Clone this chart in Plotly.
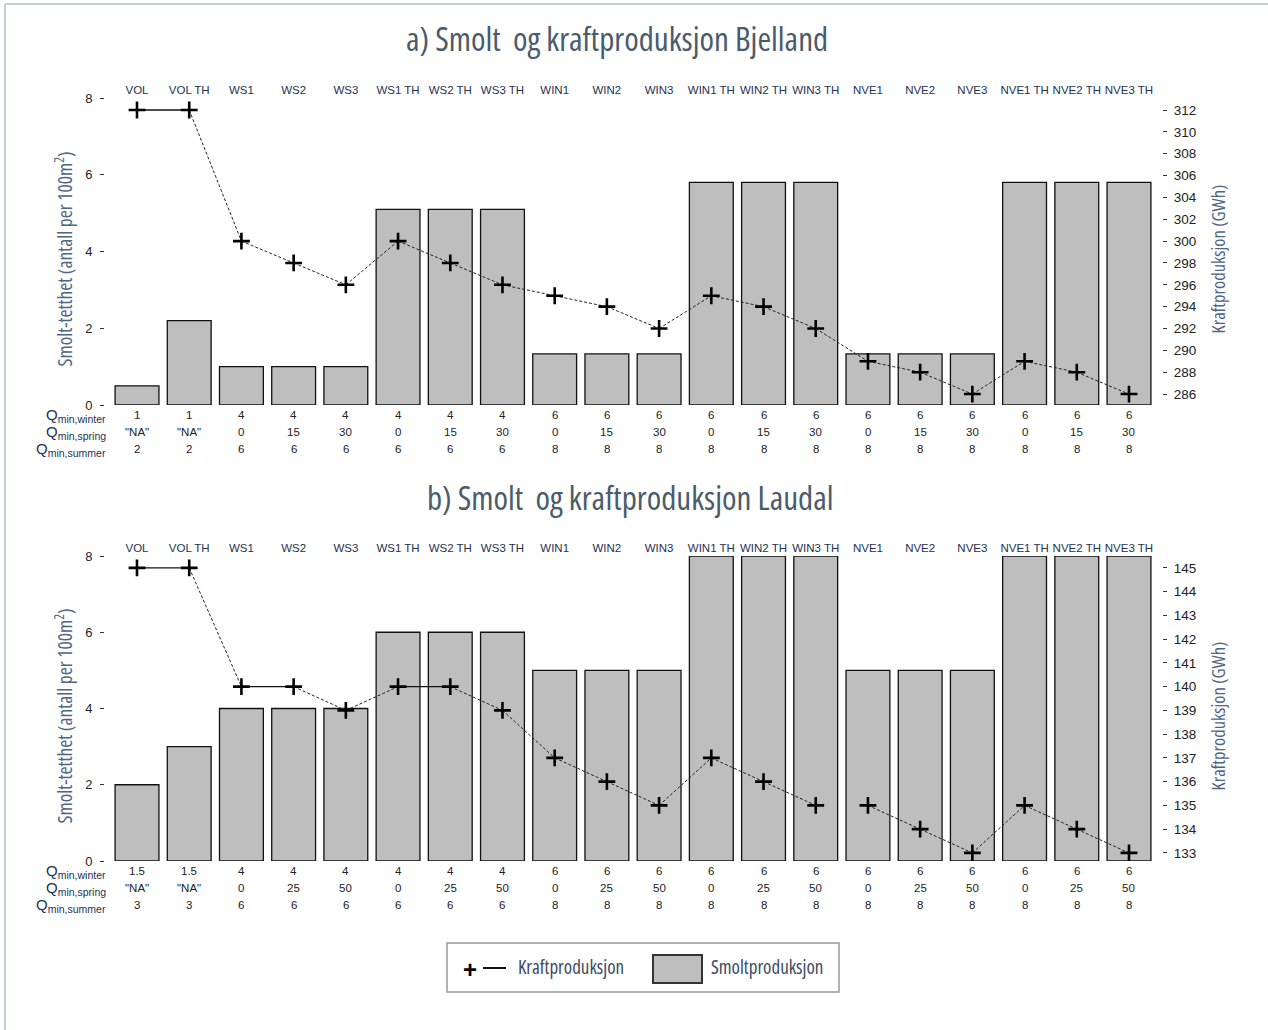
import plotly.graph_objects as go

# ---- data -----------------------------------------------------------------
scenarios = ["VOL", "VOL TH", "WS1", "WS2", "WS3", "WS1 TH", "WS2 TH", "WS3 TH",
             "WIN1", "WIN2", "WIN3", "WIN1 TH", "WIN2 TH", "WIN3 TH",
             "NVE1", "NVE2", "NVE3", "NVE1 TH", "NVE2 TH", "NVE3 TH"]

# Bjelland
smolt_bjelland = [0.5, 2.2, 1.0, 1.0, 1.0, 5.1, 5.1, 5.1, 1.33, 1.33, 1.33,
                  5.8, 5.8, 5.8, 1.33, 1.33, 1.33, 5.8, 5.8, 5.8]
kraft_bjelland = [312, 312, 300, 298, 296, 300, 298, 296, 295, 294, 292,
                  295, 294, 292, 289, 288, 286, 289, 288, 286]
qwinter_bjelland = ["1", "1", "4", "4", "4", "4", "4", "4", "6", "6", "6",
                    "6", "6", "6", "6", "6", "6", "6", "6", "6"]
qspring_bjelland = ['"NA"', '"NA"', "0", "15", "30", "0", "15", "30", "0", "15", "30",
                    "0", "15", "30", "0", "15", "30", "0", "15", "30"]
qsummer_bjelland = ["2", "2", "6", "6", "6", "6", "6", "6", "8", "8", "8",
                    "8", "8", "8", "8", "8", "8", "8", "8", "8"]

# Laudal
smolt_laudal = [2.0, 3.0, 4.0, 4.0, 4.0, 6.0, 6.0, 6.0, 5.0, 5.0, 5.0,
                8.0, 8.0, 8.0, 5.0, 5.0, 5.0, 8.0, 8.0, 8.0]
kraft_laudal = [145, 145, 140, 140, 139, 140, 140, 139, 137, 136, 135,
                137, 136, 135, 135, 134, 133, 135, 134, 133]
qwinter_laudal = ["1.5", "1.5", "4", "4", "4", "4", "4", "4", "6", "6", "6",
                  "6", "6", "6", "6", "6", "6", "6", "6", "6"]
qspring_laudal = ['"NA"', '"NA"', "0", "25", "50", "0", "25", "50", "0", "25", "50",
                  "0", "25", "50", "0", "25", "50", "0", "25", "50"]
qsummer_laudal = ["3", "3", "6", "6", "6", "6", "6", "6", "8", "8", "8",
                  "8", "8", "8", "8", "8", "8", "8", "8", "8"]

left_ticks = [0, 2, 4, 6, 8]
right_ticks_bjelland = list(range(286, 313, 2))
right_ticks_laudal = list(range(133, 146))

# ---- page geometry (pixels) -------------------------------------------------
W, H = 1268, 1030
SANS = "Liberation Sans, Arial, sans-serif"
COND = "Open Sans"
TITLE_COL = "#4a5b6c"
AXT_COL = "#4f6584"
LBL_COL = "#26314f"

def narrow(text):
    return '<span style="font-stretch:condensed">' + text + "</span>"

def px(x):
    return x / W

def py(y):
    return 1 - y / H

def group(name):
    # scenario family: VOL, WS, WIN, NVE
    return "".join(c for c in name.split()[0] if c.isalpha())

x_dom = [px(110.9), px(1155.1)]
idx = list(range(len(scenarios)))

panels = [
    dict(title="a) Smolt  og kraftproduksjon Bjelland", title_x=617, title_y=38,
         smolt=smolt_bjelland, kraft=kraft_bjelland,
         rows=[qwinter_bjelland, qspring_bjelland, qsummer_bjelland],
         top=98, bottom=405, y2range=[285.0, 313.1], y2ticks=right_ticks_bjelland,
         xa="x", ya="y", ya2="y2"),
    dict(title="b) Smolt  og kraftproduksjon Laudal", title_x=630, title_y=497,
         smolt=smolt_laudal, kraft=kraft_laudal,
         rows=[qwinter_laudal, qspring_laudal, qsummer_laudal],
         top=556, bottom=861, y2range=[132.66, 145.5], y2ticks=right_ticks_laudal,
         xa="x2", ya="y3", ya2="y4"),
]

fig = go.Figure()
annotations = []
shapes = []

for k, p in enumerate(panels):
    # bars: smolt density
    fig.add_trace(go.Bar(
        x=idx, y=p["smolt"], width=0.84, xaxis=p["xa"], yaxis=p["ya"],
        marker=dict(color="#bebebe", line=dict(color="#111111", width=1.3)),
        showlegend=False, hoverinfo="skip"))

    # line: power production; flat steps within a scenario family are solid,
    # sloping steps dashed
    kr = p["kraft"]
    dx, dy, sx, sy = [], [], [], []
    for i in range(len(kr) - 1):
        if kr[i] == kr[i + 1]:
            if group(scenarios[i]) == group(scenarios[i + 1]):
                sx += [i, i + 1, None]
                sy += [kr[i], kr[i + 1], None]
        else:
            dx += [i, i + 1, None]
            dy += [kr[i], kr[i + 1], None]
    fig.add_trace(go.Scatter(
        x=dx, y=dy, mode="lines", xaxis=p["xa"], yaxis=p["ya2"],
        line=dict(color="#222222", width=1, dash="3px,2px"),
        showlegend=False, hoverinfo="skip"))
    fig.add_trace(go.Scatter(
        x=sx, y=sy, mode="lines", xaxis=p["xa"], yaxis=p["ya2"],
        line=dict(color="#111111", width=1.3),
        showlegend=False, hoverinfo="skip"))
    fig.add_trace(go.Scatter(
        x=idx, y=kr, mode="markers", xaxis=p["xa"], yaxis=p["ya2"],
        marker=dict(symbol="cross-thin", size=12, color="#000000",
                    line=dict(color="#000000", width=2.6)),
        showlegend=False, hoverinfo="skip"))

    ydom = [py(p["bottom"]), py(p["top"])]
    xkey = "xaxis" if k == 0 else "xaxis2"
    ykey = "yaxis" if k == 0 else "yaxis3"
    y2key = "yaxis2" if k == 0 else "yaxis4"
    fig.update_layout({
        xkey: dict(domain=x_dom, range=[-0.5, 19.5], side="top", anchor=p["ya"],
                   tickmode="array", tickvals=idx, ticktext=scenarios,
                   showgrid=False, zeroline=False, showline=False, ticks="",
                   ticklabelstandoff=1,
                   tickfont=dict(family=SANS, size=11.5, color=LBL_COL),
                   automargin=False, fixedrange=True),
        ykey: dict(domain=ydom, range=[0, 8], anchor="free", position=px(104),
                   tickmode="array", tickvals=left_ticks,
                   ticks="outside", ticklen=4, tickwidth=1, tickcolor="#333333",
                   ticklabelstandoff=5,
                   showgrid=False, zeroline=False, showline=False,
                   tickfont=dict(family=SANS, size=13, color="#222222"),
                   automargin=False),
        y2key: dict(overlaying=p["ya"], side="right", anchor="free", position=px(1162),
                    range=p["y2range"], tickmode="array", tickvals=p["y2ticks"],
                    ticks="outside", ticklen=4, tickwidth=1, tickcolor="#333333",
                    ticklabelstandoff=4,
                    showgrid=False, zeroline=False, showline=False,
                    tickfont=dict(family=SANS, size=13.5, color="#222222"),
                    automargin=False),
    })

    # panel title
    annotations.append(dict(text=narrow(p["title"]), x=px(p["title_x"]), y=py(p["title_y"]),
                            xref="paper", yref="paper", showarrow=False,
                            xanchor="center", yanchor="middle",
                            font=dict(family=COND, size=33, color=TITLE_COL)))
    # axis titles
    mid = (p["top"] + p["bottom"]) / 2
    annotations.append(dict(text=narrow("Smolt-tetthet (antall per 100m<sup>2</sup>)"),
                            x=px(63), y=py(mid + 8), xref="paper", yref="paper",
                            showarrow=False, textangle=-90,
                            xanchor="center", yanchor="middle",
                            font=dict(family=COND, size=19.5, color=AXT_COL)))
    annotations.append(dict(text=narrow("Kraftproduksjon (GWh)"),
                            x=px(1217), y=py(mid + 8), xref="paper", yref="paper",
                            showarrow=False, textangle=-90,
                            xanchor="center", yanchor="middle",
                            font=dict(family=COND, size=18.5, color=AXT_COL)))

    # flow requirement table under the bars
    row_names = ["winter", "spring", "summer"]
    for r, (vals, name) in enumerate(zip(p["rows"], row_names)):
        yrow = p["bottom"] + 10 + 17 * r
        annotations.append(dict(
            text="Q<sub>min," + name + "</sub>", x=px(108), y=py(yrow),
            xref="paper", yref="paper", showarrow=False,
            xanchor="right", yanchor="middle",
            font=dict(family=SANS, size=15, color=LBL_COL)))
        for i, v in enumerate(vals):
            annotations.append(dict(
                text=v, x=i, y=py(yrow), xref=p["xa"], yref="paper",
                showarrow=False, xanchor="center", yanchor="middle",
                font=dict(family=SANS, size=11.5, color="#222222")))

# ---- legend -----------------------------------------------------------------
shapes.append(dict(type="rect", xref="paper", yref="paper",
                   x0=px(447), x1=px(839), y0=py(992), y1=py(943),
                   line=dict(color="#9a9a9a", width=1.5), fillcolor="rgba(0,0,0,0)"))
shapes.append(dict(type="line", xref="paper", yref="paper",
                   x0=px(483), x1=px(506), y0=py(968), y1=py(968),
                   line=dict(color="#111111", width=2)))
annotations.append(dict(text="<b>+</b>", x=px(470), y=py(969), xref="paper", yref="paper",
                        showarrow=False, xanchor="center", yanchor="middle",
                        font=dict(family=SANS, size=24, color="#000000")))
annotations.append(dict(text=narrow("Kraftproduksjon"), x=px(516), y=py(967), xref="paper",
                        yref="paper", showarrow=False, xanchor="left", yanchor="middle",
                        font=dict(family=COND, size=19, color="#3b4a66")))
shapes.append(dict(type="rect", xref="paper", yref="paper",
                   x0=px(653), x1=px(702), y0=py(983), y1=py(955),
                   line=dict(color="#333333", width=2), fillcolor="#bebebe"))
annotations.append(dict(text=narrow("Smoltproduksjon"), x=px(709), y=py(967), xref="paper",
                        yref="paper", showarrow=False, xanchor="left", yanchor="middle",
                        font=dict(family=COND, size=19, color="#3b4a66")))

# page frame
shapes.append(dict(type="line", xref="paper", yref="paper",
                   x0=px(5), x1=1, y0=py(4), y1=py(4),
                   line=dict(color="#c9cdd6", width=2)))
shapes.append(dict(type="line", xref="paper", yref="paper",
                   x0=px(5), x1=px(5), y0=0, y1=py(4),
                   line=dict(color="#c9cdd6", width=2)))

fig.update_layout(
    width=W, height=H, autosize=False,
    margin=dict(l=0, r=0, t=0, b=0),
    paper_bgcolor="white", plot_bgcolor="rgba(0,0,0,0)",
    barmode="overlay", showlegend=False,
    annotations=annotations, shapes=shapes,
)

fig.write_html("out.html")
